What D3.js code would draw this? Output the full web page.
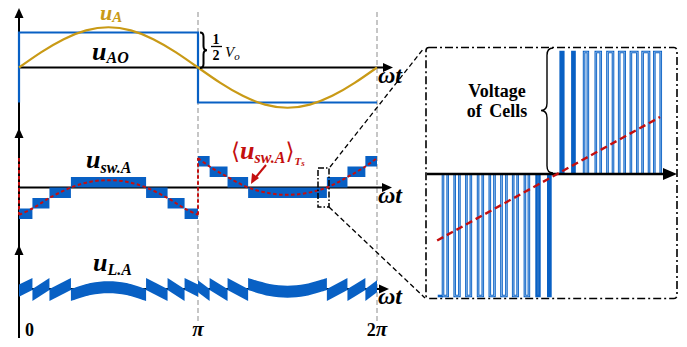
<!DOCTYPE html>
<html>
<head>
<meta charset="utf-8">
<script src="https://cdn.jsdelivr.net/npm/d3@7"></script>
<style>
  body { margin: 0; background: #fff; }
  svg { display: block; }
</style>
</head>
<body>
<div id="chart"></div>
<script>
// phase is in units of pi
const xTickValues = [0, 1, 2];
const xTickLabels = ["0", "π", "2π"];

// top panel, units of Vo/2
const uaoPhase = [0, 0, 1, 1, 2];
const uaoValue = [-1, 1, 1, -1, -1];
const uaPhase = [0, 0.125, 0.25, 0.375, 0.5, 0.625, 0.75, 0.875, 1, 1.125, 1.25, 1.375, 1.5, 1.625, 1.75, 1.875, 2];
const uaValue = [0, 0.44, 0.81, 1.06, 1.15, 1.06, 0.81, 0.44, 0, -0.44, -0.81, -1.06, -1.15, -1.06, -0.81, -0.44, 0];

// middle panel, units of one cell voltage
const blockStart = [0, 0.075, 0.17, 0.29, 0.71, 0.83, 0.925, 1, 1.065, 1.165, 1.28, 1.72, 1.835, 1.935];
const blockEnd = [0.075, 0.17, 0.29, 0.71, 0.83, 0.925, 1, 1.065, 1.165, 1.28, 1.72, 1.835, 1.935, 2];
const blockLow = [-3, -2, -1, 0, -1, -2, -3, 2, 1, 0, -1, 0, 1, 2];
const refPhaseA = [0, 0.075, 0.17, 0.29, 0.4, 0.5, 0.6, 0.71, 0.83, 0.925, 1];
const refValueA = [-2.6, -2, -1, 0, 0.55, 0.7, 0.55, 0, -1, -2, -2.6];
const refPhaseB = [1, 1.065, 1.165, 1.28, 1.4, 1.5, 1.6, 1.72, 1.835, 1.935, 2];
const refValueB = [2.8, 2, 1, 0, -0.55, -0.7, -0.55, 0, 1, 2, 2.8];

// zoomed inset, time in switching periods
const negPulseStart = [0, 1, 2, 3, 4, 5, 6, 7, 8, 9];
const negPulseWidth = [0.4, 0.4, 0.38, 0.4, 0.4, 0.42, 0.38, 0.34, 0.24, 0.18];
const posPulseStart = [10.06, 11.06, 12.06, 13.06, 14.06, 15.06, 16.06, 17.06, 18.06];
const posPulseWidth = [0.22, 0.18, 0.32, 0.42, 0.47, 0.47, 0.55, 0.55, 0.55];
const insetRefTime = [-0.5, 18.55];
const insetRefValue = [-0.545, 0.467];

const W = 687, H = 347;
const blue = "#0860c4", lightBlue = "#a9cbf2", gold = "#c99a16", red = "#c40f0f";
const serif = "'Liberation Serif', 'DejaVu Serif', serif";

const svg = d3.select("#chart").append("svg").attr("width", W).attr("height", H);

const x = d3.scaleLinear().domain([0, 2]).range([19, 377]);
const yTop = d3.scaleLinear().domain([-1, 1]).range([102.5, 32.5]);
const yMid = d3.scaleLinear().domain([0, 1]).range([187.5, 177]);
const yBot = d3.scaleLinear().domain([0, 1]).range([289.5, 278.5]);
const xI = d3.scaleLinear().domain([0, 1]).range([443, 454.7]);
const yI = d3.scaleLinear().domain([-1, 1]).range([296, 52]);

function arrow(g, px, py, dir, len, half) {
  let pts;
  if (dir === "up") pts = [[px, py], [px - half, py + len], [px + half, py + len]];
  else pts = [[px, py], [px - len, py - half], [px - len, py + half]];
  g.append("path").attr("d", "M" + pts.join("L") + "Z").attr("fill", "#000");
}

function brace(g, bx, y1, y2, w, dir, sw) {
  // dir = 1 points right, -1 points left
  const p = d3.path();
  const ym = (y1 + y2) / 2, xm = bx + dir * w / 2, xt = bx + dir * w;
  p.moveTo(bx, y1);
  p.quadraticCurveTo(xm, y1, xm, y1 + w * 0.6);
  p.lineTo(xm, ym - w * 0.6);
  p.quadraticCurveTo(xm, ym, xt, ym);
  p.quadraticCurveTo(xm, ym, xm, ym + w * 0.6);
  p.lineTo(xm, y2 - w * 0.6);
  p.quadraticCurveTo(xm, y2, bx, y2);
  g.append("path").attr("d", p.toString()).attr("fill", "none").attr("stroke", "#000").attr("stroke-width", sw);
}

function mathText(g, tx, ty, parts, color) {
  const t = g.append("text").attr("x", tx).attr("y", ty).attr("fill", color || "#000")
    .attr("font-family", serif).attr("font-weight", "bold").attr("font-style", "italic");
  parts.forEach(pt => {
    t.append("tspan").text(pt.t).attr("font-size", pt.s).attr("dy", pt.dy || 0)
      .attr("font-style", pt.up ? "normal" : "italic")
      .attr("font-weight", pt.normal ? "normal" : "bold")
      .attr("font-family", pt.f || serif);
  });
  return t;
}

// phase guides at pi and 2pi
const guides = svg.append("g");
[1, 2].forEach(v => {
  guides.append("line").attr("x1", x(v)).attr("x2", x(v)).attr("y1", 12).attr("y2", 324)
    .attr("stroke", "#b4b4b4").attr("stroke-width", 1.5).attr("stroke-dasharray", "5,3");
});

// axes
const axes = svg.append("g");
axes.append("line").attr("x1", x(0)).attr("x2", x(0)).attr("y1", 14).attr("y2", 338)
  .attr("stroke", "#000").attr("stroke-width", 2);
[8, 128, 245].forEach(ty => arrow(axes, x(0), ty, "up", 10, 4.5));
[[yTop(0), 393], [yMid(0), 392], [yBot(0) - 0.5, 389]].forEach(([ay, tip]) => {
  axes.append("line").attr("x1", x(0)).attr("x2", tip - 8).attr("y1", ay).attr("y2", ay)
    .attr("stroke", "#000").attr("stroke-width", 2);
  arrow(axes, tip, ay, "right", 10, 4.5);
});

// top panel
const topG = svg.append("g");
topG.append("path")
  .attr("d", d3.line().x(d => x(d[0])).y(d => yTop(d[1]))(d3.zip(uaoPhase, uaoValue)))
  .attr("fill", "none").attr("stroke", blue).attr("stroke-width", 2.2);
topG.append("path")
  .attr("d", d3.line().x(d => x(d[0])).y(d => yTop(d[1])).curve(d3.curveNatural)(d3.zip(uaPhase, uaValue)))
  .attr("fill", "none").attr("stroke", gold).attr("stroke-width", 2.2);

// middle panel: switching blocks
const midG = svg.append("g");
midG.selectAll("rect.blk").data(d3.range(blockStart.length)).join("rect").attr("class", "blk")
  .attr("x", i => x(blockStart[i])).attr("width", i => x(blockEnd[i]) - x(blockStart[i]))
  .attr("y", i => yMid(blockLow[i] + 1)).attr("height", i => yMid(blockLow[i]) - yMid(blockLow[i] + 1))
  .attr("fill", blue);

const refLine = d3.line().x(d => x(d[0])).y(d => yMid(d[1])).curve(d3.curveCatmullRom);
const refStyle = s => s.attr("fill", "none").attr("stroke", red).attr("stroke-width", 2).attr("stroke-dasharray", "3.5,2.5");
midG.append("line").attr("x1", x(0)).attr("x2", x(0)).attr("y1", yMid(refValueB[refValueB.length - 1])).attr("y2", yMid(refValueA[0])).call(refStyle);
midG.append("path").attr("d", refLine(d3.zip(refPhaseA, refValueA))).call(refStyle);
midG.append("line").attr("x1", x(1)).attr("x2", x(1)).attr("y1", yMid(refValueA[refValueA.length - 1])).attr("y2", yMid(refValueB[0])).call(refStyle);
midG.append("path").attr("d", refLine(d3.zip(refPhaseB, refValueB))).call(refStyle);

// bottom panel: inductor voltage = reference minus block centre, with ripple band
const refAll = d3.zip(refPhaseA.concat(refPhaseB), refValueA.concat(refValueB));
const botG = svg.append("g");
blockStart.forEach((s, i) => {
  const e = blockEnd[i], c = blockLow[i] + 0.5;
  const pts = refAll.filter(d => d[0] >= s && d[0] <= e && (d[0] !== 1 || (i < 7 ? d[1] < 0 : d[1] > 0)))
    .map(d => [d[0], d[1] - c]);
  botG.append("path")
    .attr("d", d3.area().x(d => x(d[0])).y0(d => yBot(d[1] - 0.55)).y1(d => yBot(d[1] + 0.55))
      .curve(pts.length > 2 ? d3.curveCatmullRom : d3.curveLinear)(pts))
    .attr("fill", blue);
});

// zoom marker and connectors
const zoomG = svg.append("g").attr("fill", "none").attr("stroke", "#000");
zoomG.append("rect").attr("x", 318).attr("y", 168).attr("width", 11).attr("height", 39)
  .attr("stroke-width", 1.5).attr("stroke-dasharray", "6,2,1.5,2");
zoomG.append("line").attr("x1", 330).attr("y1", 167).attr("x2", 424).attr("y2", 48)
  .attr("stroke-width", 1.3).attr("stroke-dasharray", "5,3");
zoomG.append("line").attr("x1", 329).attr("y1", 207).attr("x2", 425).attr("y2", 298)
  .attr("stroke-width", 1.3).attr("stroke-dasharray", "5,3");

// inset
const ins = svg.append("g");
ins.append("rect").attr("x", 426).attr("y", 47.5).attr("width", 251).attr("height", 251).attr("rx", 3)
  .attr("fill", "none").attr("stroke", "#000").attr("stroke-width", 1.6).attr("stroke-dasharray", "8,3,2,3");

ins.append("line").attr("x1", xI(-0.45)).attr("x2", xI(0)).attr("y1", yI(-1)).attr("y2", yI(-1))
  .attr("stroke", blue).attr("stroke-width", 2.6);
function drawPulses(starts, widths, level) {
  starts.forEach((s, i) => {
    const x0 = xI(s), x1 = xI(s + widths[i]), y0 = yI(0), y1 = yI(level);
    const d = `M${x0},${y0}V${y1}H${x1}V${y0}`;
    ins.append("path").attr("d", d).attr("fill", "none").attr("stroke", blue).attr("stroke-width", 2.6);
    if (x1 - x0 > 3) ins.append("path").attr("d", d).attr("fill", "none").attr("stroke", lightBlue).attr("stroke-width", 0.7);
  });
}
drawPulses(negPulseStart, negPulseWidth, -1);
drawPulses(posPulseStart, posPulseWidth, 1);

ins.append("line").attr("x1", 427).attr("x2", 664).attr("y1", yI(0)).attr("y2", yI(0))
  .attr("stroke", "#000").attr("stroke-width", 2.6);
arrow(ins, 677, yI(0), "right", 14, 6);

ins.append("line").attr("x1", xI(insetRefTime[0])).attr("y1", yI(insetRefValue[0]))
  .attr("x2", xI(insetRefTime[1])).attr("y2", yI(insetRefValue[1]))
  .attr("stroke", red).attr("stroke-width", 2.4).attr("stroke-dasharray", "7,4");

brace(ins, 553, 48, 173, 12, -1, 1.4);
ins.append("text").attr("x", 497).attr("y", 97).attr("text-anchor", "middle")
  .attr("font-family", serif).attr("font-weight", "bold").attr("font-size", 18).text("Voltage");
ins.append("text").attr("x", 497).attr("y", 117).attr("text-anchor", "middle")
  .attr("font-family", serif).attr("font-weight", "bold").attr("font-size", 18).attr("word-spacing", 3).text("of Cells");

// labels
const lab = svg.append("g");
mathText(lab, 100, 19.5, [{ t: "u", s: 22 }, { t: "A", s: 15, dy: 2 }], gold);
mathText(lab, 92, 60, [{ t: "u", s: 26 }, { t: "AO", s: 16, dy: 3 }]);
mathText(lab, 86, 168, [{ t: "u", s: 26 }, { t: "sw.A", s: 16, dy: 5 }]);
mathText(lab, 93, 271, [{ t: "u", s: 26 }, { t: "L.A", s: 16, dy: 4 }]);
mathText(lab, 231, 159, [
  { t: "⟨", s: 23, f: "'DejaVu Sans', sans-serif", up: true, normal: true },
  { t: "u", s: 26 }, { t: "sw.A", s: 16, dy: 4 },
  { t: "⟩", s: 23, dy: -4, f: "'DejaVu Sans', sans-serif", up: true, normal: true },
  { t: "T", s: 11, dy: 6 }, { t: "s", s: 9, dy: 1 }
], red);
lab.append("line").attr("x1", 266).attr("y1", 165).attr("x2", 256).attr("y2", 177)
  .attr("stroke", red).attr("stroke-width", 2);
lab.append("path").attr("d", "M251,184L252,173L259,178Z").attr("fill", red);

[83, 203, 304].forEach(ty => mathText(lab, 378, ty, [{ t: "ωt", s: 24 }]));

xTickValues.forEach((v, i) => {
  const txt = xTickLabels[i];
  const parts = txt.split("").map(ch => ch === "π" ? { t: ch, s: 21 } : { t: ch, s: 18, up: true });
  const t = mathText(lab, x(v) + (v === 0 ? 6 : 0), 336, parts);
  if (v > 0) t.attr("text-anchor", "middle");
});

// 1/2 Vo
brace(lab, 200, 32.5, 68, 7, 1, 2);
lab.append("text").attr("x", 216).attr("y", 44).attr("text-anchor", "middle").attr("font-family", serif)
  .attr("font-weight", "bold").attr("font-size", 14).text("1");
lab.append("line").attr("x1", 211).attr("x2", 222).attr("y1", 46.5).attr("y2", 46.5).attr("stroke", "#000").attr("stroke-width", 1.3);
lab.append("text").attr("x", 216).attr("y", 60).attr("text-anchor", "middle").attr("font-family", serif)
  .attr("font-weight", "bold").attr("font-size", 14).text("2");
mathText(lab, 225, 57, [{ t: "V", s: 15, normal: true }, { t: "o", s: 11, dy: 3, normal: true }]);
</script>
</body>
</html>
